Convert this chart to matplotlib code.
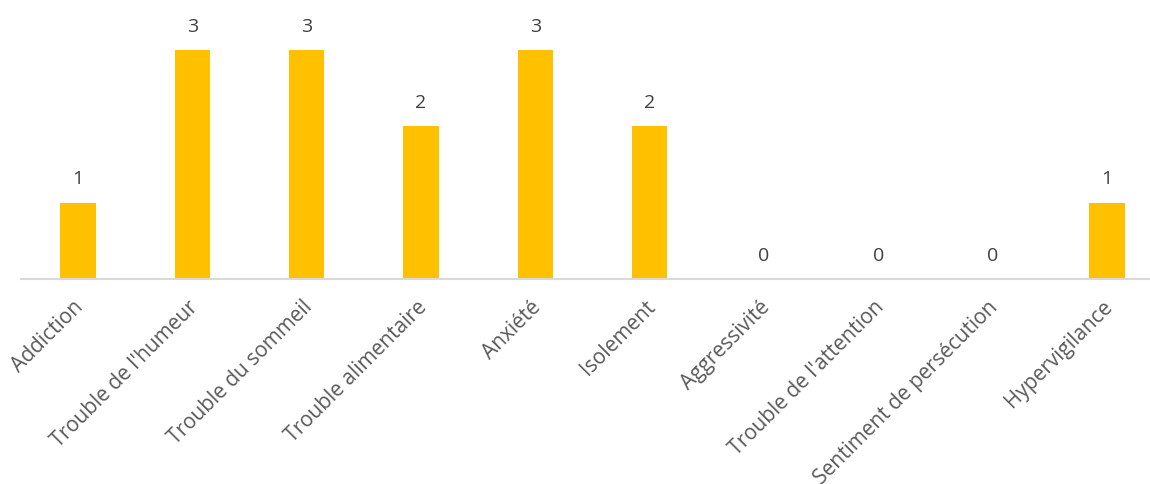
import matplotlib.pyplot as plt
import matplotlib.transforms as mtransforms
import numpy as np

plt.rcParams['font.family'] = ['Open Sans', 'DejaVu Sans']

categories = ['Addiction', "Trouble de l'humeur", 'Trouble du sommeil',
              'Trouble alimentaire', 'Anxiété', 'Isolement', 'Aggressivité',
              "Trouble de l'attention", 'Sentiment de persécution',
              'Hypervigilance']
values = [1, 3, 3, 2, 3, 2, 0, 0, 0, 1]

bar_color = '#FFC000'
text_color = '#595959'

fig = plt.figure(figsize=(11.5, 4.85), dpi=100)
ax = fig.add_axes([21 / 1150, (485 - 280) / 485, 1143 / 1150, 280 / 485])

x = np.arange(len(categories))
bars = ax.bar(x, values, width=0.31, color=bar_color)

# value labels above bars
for xi, v in zip(x, values):
    ax.annotate(str(v), (xi, v), xytext=(0, 11), textcoords='offset points',
                ha='center', va='bottom', fontsize=14, color='#404040')

ax.set_xlim(-0.5, 9.5)
ax.set_ylim(0, 280 / 76.4)

for s in ['top', 'right', 'left']:
    ax.spines[s].set_visible(False)
ax.spines['bottom'].set_color('#D9D9D9')
ax.spines['bottom'].set_linewidth(1.5)
ax.spines['bottom'].set_clip_on(False)

ax.set_yticks([])
ax.set_xticks(x)
ax.set_xticklabels(categories, rotation=45, ha='right', va='top',
                   rotation_mode='anchor', fontsize=15, color=text_color)
ax.tick_params(axis='x', length=0, pad=12)

# nudge labels slightly left
offset = mtransforms.ScaledTranslation(-5 / 100, 0, fig.dpi_scale_trans)
for lbl in ax.get_xticklabels():
    lbl.set_transform(lbl.get_transform() + offset)

fig.savefig('out.png', dpi=100)
